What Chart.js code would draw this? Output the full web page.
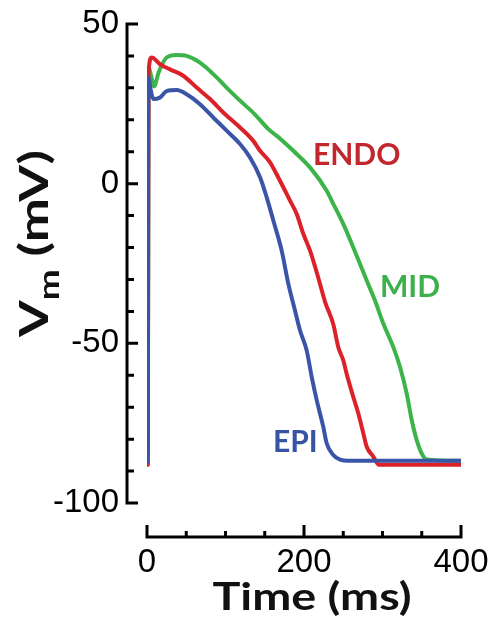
<!DOCTYPE html>
<html>
<head>
<meta charset="utf-8">
<script src="https://cdn.jsdelivr.net/npm/chart.js@4"></script>
<style>
  html, body { margin: 0; padding: 0; background: #fff; }
  #wrap { width: 497px; height: 626px; }
</style>
</head>
<body>
<div id="wrap"><canvas id="apChart"></canvas></div>
<script>
// action potentials (ms, mV)
const epiTime = [0, 1, 1.7, 5, 8, 16.6, 25, 37.8, 50.5, 67.5, 84.5, 101.4, 118.5, 131.2, 144, 152.5, 161, 171.5, 180, 188.5, 195, 203.4, 209.8, 216.2, 224.6, 228.9, 237.3, 245.9, 256.5, 400];
const epiVm   = [-87, -87, 33.2, 29, 26.5, 27, 29, 29.3, 28, 24.9, 20.7, 16.6, 12.4, 8.2, 2, -4.3, -11.6, -20.9, -31.3, -39.7, -46, -52.2, -60.5, -67.8, -76.2, -81.3, -85, -86.4, -86.8, -86.8];

const endoTime = [0, 1, 2, 6, 16.6, 29.3, 46.2, 63.2, 80.3, 97.2, 118.5, 135.4, 144, 156.7, 169.4, 182.2, 190.7, 199.1, 207.6, 218, 226.8, 237.3, 243.7, 250, 254.3, 262.8, 269.2, 275.6, 279.9, 288.3, 295, 400];
const endoVm   = [-88, -88, 35, 39.5, 37.4, 35.8, 33.8, 30.1, 26.5, 22.3, 17.6, 13.4, 10.3, 6.7, 0.9, -5.3, -9.5, -15.7, -20.9, -29.3, -37, -44, -51.2, -55.3, -59.5, -66.8, -72, -78.2, -82.4, -85.5, -88, -88];

const midTime = [0, 1, 2, 5, 9, 15, 25, 37.8, 50.5, 67.5, 84.5, 101.4, 118.5, 137, 155, 170, 186.4, 207.6, 228.9, 237.3, 250, 262.8, 279.9, 290.4, 301, 313.8, 322.3, 330.8, 337.2, 343.6, 350, 356.3, 400];
const midVm   = [-88, -88, 36.5, 34, 30.5, 35, 39.5, 40.3, 40, 37.9, 34.3, 30.1, 26, 21.8, 17, 14, 10.3, 5.1, -2.2, -6.3, -12.6, -20, -30.3, -36.6, -43.8, -51.2, -57.4, -65.7, -74, -80.3, -84.5, -86.4, -86.8];

const xTicks = [0, 200, 400];
const yTicks = [-100, -50, 0, 50];

function pts(ts, vs) {
  return ts.map((t, i) => ({ x: t, y: vs[i] }));
}

const ctx = document.getElementById('apChart').getContext('2d');

// the two axes are offset from the plot, so draw the lines and ticks ourselves
const axesPlugin = {
  id: 'offsetAxes',
  afterDraw(chart) {
    const c = chart.ctx;
    const xs = chart.scales.x, ys = chart.scales.y;
    const axX = 127, axY = 537;
    c.save();
    c.strokeStyle = '#000';
    c.lineWidth = 3;
    c.lineCap = 'butt';
    // y axis
    const yTop = ys.getPixelForValue(50), yBot = ys.getPixelForValue(-100);
    c.beginPath();
    c.moveTo(axX, yTop); c.lineTo(axX, yBot);
    for (let v = -100; v <= 50; v += 10) {
      const p = ys.getPixelForValue(v);
      const len = (v % 50 === 0) ? 11 : 7;
      c.moveTo(axX - 1.5, p); c.lineTo(axX + len, p);
    }
    c.stroke();
    // x axis
    const xL = xs.getPixelForValue(0), xR = xs.getPixelForValue(400);
    c.beginPath();
    c.moveTo(xL, axY); c.lineTo(xR, axY);
    for (let t = 0; t <= 400; t += 50) {
      const p = xs.getPixelForValue(t);
      const len = (t % 200 === 0) ? 12 : 6;
      c.moveTo(p, axY + 1.5); c.lineTo(p, axY - len);
    }
    c.stroke();

    // axis titles
    c.fillStyle = '#111';
    c.textBaseline = 'alphabetic';
    c.font = 'bold 38px Lato';
    const tw = c.measureText('Time (ms)').width;
    c.translate(312, 610);
    c.scale(199 / tw, 1);
    c.textAlign = 'center';
    c.fillText('Time (ms)', 0, 0);
    c.restore();

    c.save();
    c.fillStyle = '#111';
    c.textBaseline = 'alphabetic';
    c.textAlign = 'left';
    c.translate(48, 337);
    c.rotate(-Math.PI / 2);
    c.font = 'bold 40px Lato';
    const wV = c.measureText('V').width;
    const wRest = c.measureText(' (mV)').width;
    c.font = 'bold 28px Lato';
    const wm = c.measureText('m').width;
    const sx = 187 / (wV + wm + wRest);
    c.scale(sx, 1);
    c.font = 'bold 40px Lato';
    c.fillText('V', 0, 0);
    c.font = 'bold 28px Lato';
    c.fillText('m', wV, 11);
    c.font = 'bold 40px Lato';
    c.fillText(' (mV)', wV + wm, 0);
    c.restore();

    // curve labels
    c.save();
    c.font = 'bold 30px Lato';
    c.textBaseline = 'alphabetic';
    c.textAlign = 'left';
    c.fillStyle = '#c1272d';
    c.fillText('ENDO', 313, 165);
    c.fillStyle = '#3cb04b';
    c.fillText('MID', 380, 297);
    c.fillStyle = '#3653a4';
    c.fillText('EPI', 273, 452);
    c.restore();
  }
};

new Chart(ctx, {
  type: 'line',
  data: {
    datasets: [
      { label: 'MID', data: pts(midTime, midVm), borderColor: '#3cb44a', borderWidth: 4, order: 3 },
      { label: 'ENDO', data: pts(endoTime, endoVm), borderColor: '#dc2128', borderWidth: 4, order: 2 },
      { label: 'EPI', data: pts(epiTime, epiVm), borderColor: '#3a55a8', borderWidth: 4, order: 1 }
    ]
  },
  options: {
    responsive: true,
    maintainAspectRatio: false,
    animation: false,
    events: [],
    layout: { padding: { top: 24, right: 36, left: 0, bottom: 0 } },
    elements: {
      point: { radius: 0 },
      line: { cubicInterpolationMode: 'monotone', fill: false, borderJoinStyle: 'round' }
    },
    plugins: { legend: { display: false }, tooltip: { enabled: false } },
    scales: {
      x: {
        type: 'linear',
        min: 0, max: 400,
        grid: { display: false, drawTicks: false },
        border: { display: false },
        afterFit(s) { s.height = 123; s.paddingLeft = 0; s.paddingRight = 0; },
        afterBuildTicks(s) { s.ticks = xTicks.map(v => ({ value: v })); },
        ticks: { color: '#000', padding: 40, font: { family: 'Liberation Sans', size: 33 } }
      },
      y: {
        type: 'linear',
        min: -100, max: 50,
        grid: { display: false, drawTicks: false },
        border: { display: false },
        afterFit(s) { s.width = 147; s.paddingTop = 0; s.paddingBottom = 0; },
        afterBuildTicks(s) { s.ticks = yTicks.map(v => ({ value: v })); },
        ticks: { color: '#000', padding: 28, font: { family: 'Liberation Sans', size: 33 } }
      }
    }
  },
  plugins: [axesPlugin]
});
</script>
</body>
</html>
